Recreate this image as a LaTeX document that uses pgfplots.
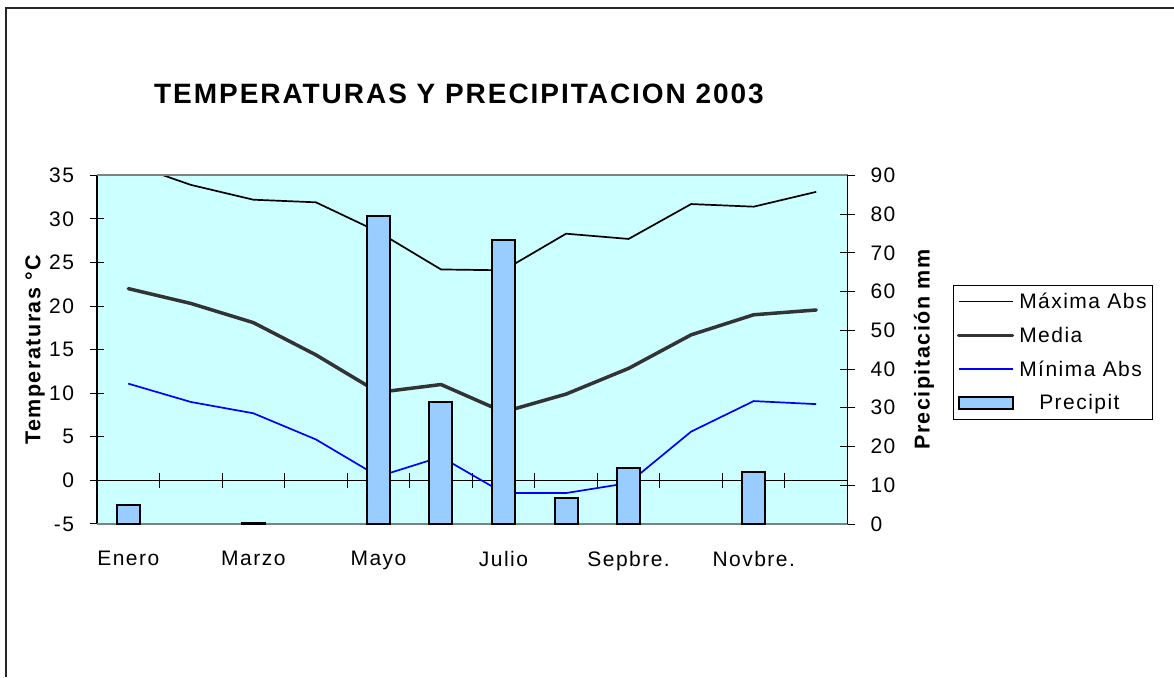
\documentclass[border=0pt]{standalone}
\usepackage{fontspec}
\setmainfont{Liberation Sans}[LetterSpace=7]
\usepackage{pgfplots}
\pgfplotsset{compat=1.18}

\definecolor{plotbg}{HTML}{CCFFFF}
\definecolor{barfill}{HTML}{99CCFF}
\definecolor{mediagray}{HTML}{333333}
\definecolor{minblue}{HTML}{0000FF}
\definecolor{framegray}{HTML}{808080}
\newcommand{\txt}{\fontsize{21}{25}\selectfont}
\newcommand{\lbl}{\fontsize{21.5}{25}\selectfont\bfseries}

\pgfplotsset{
  linelegend/.style={legend image code/.code={\draw[##1] (0pt,0pt) -- (54pt,0pt);}},
  barlegend/.style={legend image code/.code={\draw[##1] (0pt,-6pt) rectangle (54pt,6pt);}},
  plotframe/.style={
    at={(97pt,153pt)}, anchor=south west,
    scale only axis, width=750.5pt, height=348.7pt,
    xmin=0.5, xmax=12.5,
    tick align=center, major tick length=15pt,
    /pgf/number format/assume math mode=true,
  },
}

\begin{document}
\begin{tikzpicture}
\useasboundingbox (0pt,0pt) rectangle (1174pt,677pt);
% outer frame of the chart sheet
\draw[line width=1.2pt, black!85] (6pt,0pt) -- (6pt,669pt) -- (1174pt,669pt);
\node[anchor=base, font=\fontsize{28}{33}\selectfont\bfseries] at (459pt,573pt) {TEMPERATURAS Y PRECIPITACION 2003};

% temperatures (left axis)
\begin{axis}[
  plotframe,
  ymin=-5, ymax=35,
  axis background/.style={fill=plotbg},
  axis x line=middle, axis y line=left,
  x axis line style={-, black, line width=0.9pt},
  y axis line style={-, black, line width=1.5pt},
  hide obscured x ticks=false, hide obscured y ticks=false,
  xtick={1.5,2.5,...,11.5}, xticklabels={},
  ytick={-5,0,...,35},
  tick style={black, line width=1pt},
  yticklabel style={font=\txt, xshift=-12pt},
  ylabel={Temperaturas °C},
  every axis y label/.style={at={(axis description cs:-0.0826,0.5)}, rotate=90, anchor=center, font=\lbl},
]
% Maxima absoluta
\addplot[black, line width=1.7pt] coordinates {
  (1,36.4) (2,33.9) (3,32.2) (4,31.9) (5,28.5) (6,24.2)
  (7,24.1) (8,28.3) (9,27.7) (10,31.7) (11,31.4) (12,33.1)};
% Media
\addplot[mediagray, line width=3.5pt, line join=round, line cap=round] coordinates {
  (1,22.0) (2,20.3) (3,18.1) (4,14.4) (5,10.1) (6,11.0)
  (7,7.85) (8,9.9) (9,12.85) (10,16.7) (11,19.0) (12,19.55)};
% Minima absoluta
\addplot[minblue, line width=1.7pt] coordinates {
  (1,11.1) (2,9.0) (3,7.7) (4,4.7) (5,0.45) (6,2.7)
  (7,-1.45) (8,-1.45) (9,-0.3) (10,5.6) (11,9.1) (12,8.75)};
\end{axis}

% precipitation (right axis)
\begin{axis}[
  plotframe,
  ymin=0, ymax=90,
  axis x line=box, axis y line=right,
  x axis line style={-, framegray, line width=1.8pt},
  y axis line style={-, black, line width=1.5pt},
  xtick={1,3,5,7,9,11},
  xticklabels={Enero,Marzo,Mayo,Julio,Sepbre.,Novbre.},
  x tick style={draw=none},
  xticklabel style={font=\txt, yshift=-16pt},
  ytick={0,10,...,90},
  y tick style={black, line width=1pt},
  yticklabel style={font=\txt, xshift=12pt},
  ylabel={Precipitación mm},
  every axis y label/.style={at={(axis description cs:1.102,0.5)}, rotate=90, anchor=center, font=\lbl},
  legend style={at={(axis description cs:1.140,0.686)}, anchor=north west,
    draw=black, fill=white, font=\txt,
    row sep=13pt, column sep=3pt, inner xsep=4pt, inner ysep=6pt},
  legend cell align=left,
]
\addlegendimage{linelegend, draw=black, line width=1.7pt}
\addlegendentry{Máxima Abs}
\addlegendimage{linelegend, draw=mediagray, line width=3.5pt, line cap=round}
\addlegendentry{Media}
\addlegendimage{linelegend, draw=minblue, line width=1.7pt}
\addlegendentry{Mínima Abs}
\addplot[ybar, bar width=23pt, fill=barfill, draw=black, line width=2pt, barlegend]
  coordinates {(1,4.9) (3,0.3) (5,79.6) (6,31.4) (7,73.2) (8,6.8) (9,14.4) (11,13.4)};
\addlegendentry{\hspace{20pt}Precipit}
\end{axis}
\end{tikzpicture}
\end{document}
